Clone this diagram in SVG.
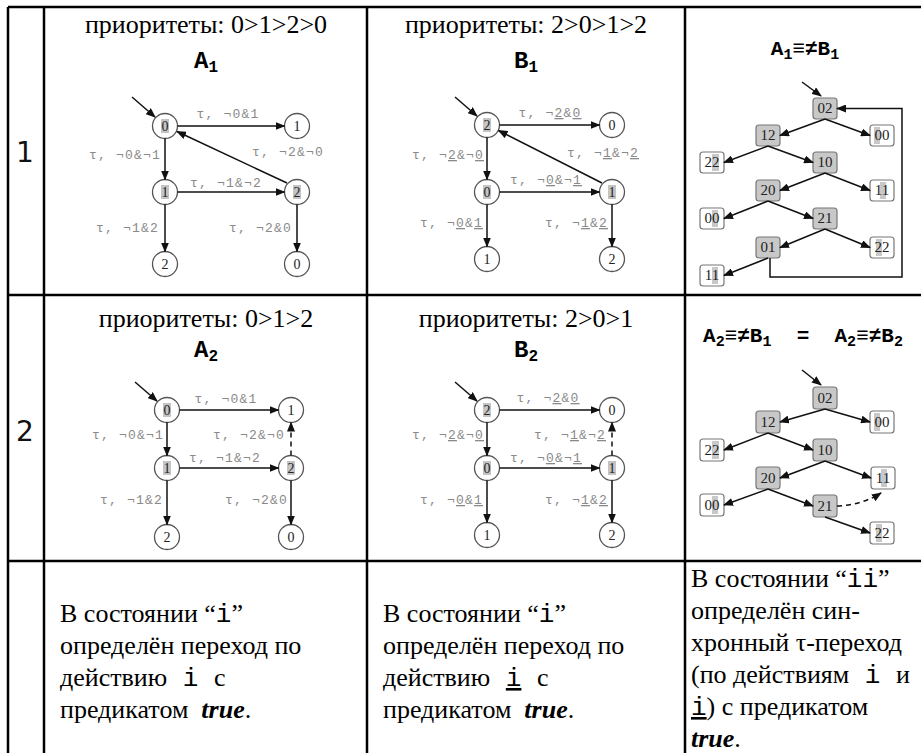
<svg xmlns="http://www.w3.org/2000/svg" width="921" height="753" viewBox="0 0 921 753">
<defs>
<marker id="ah" markerWidth="10" markerHeight="8" refX="9" refY="4" orient="auto" markerUnits="userSpaceOnUse"><path d="M0,0 L10,4 L0,8 z" fill="#111"/></marker>
</defs>
<style>
.grid{stroke:#000;stroke-width:2.5;fill:none}
.hdr{font-family:'Liberation Serif','Times New Roman','DejaVu Serif',serif;font-size:26px;fill:#000;text-anchor:middle}
.ttl{font-family:'Liberation Mono','Courier New','DejaVu Sans Mono',monospace;font-weight:bold;font-size:24px;fill:#000;text-anchor:middle}
.ttl2{font-family:'Liberation Mono','Courier New','DejaVu Sans Mono',monospace;font-weight:bold;font-size:21px;fill:#000;text-anchor:middle}
.num{font-family:'DejaVu Sans',sans-serif;font-size:28px;fill:#111;text-anchor:middle}
.st circle{fill:#fff;stroke:#555;stroke-width:1.3}
.st text{font-family:'Liberation Serif','Times New Roman','DejaVu Serif',serif;font-size:14px;fill:#222;text-anchor:middle}
.hl{fill:#c4c4c4}
.lbl{font-family:'Liberation Mono','Courier New','DejaVu Sans Mono',monospace;font-size:13px;letter-spacing:1.2px;fill:#8a8a8a}
.u{text-decoration:underline}
.e{stroke:#111;stroke-width:1.5;fill:none;marker-end:url(#ah)}
.d{stroke-dasharray:5 4}
.bx rect.b{stroke:#777;stroke-width:1.2}
.g{fill:#c8c8c8}
.w{fill:#fff}
.bx text{font-family:'Liberation Serif','Times New Roman','DejaVu Serif',serif;font-size:15px;fill:#222;text-anchor:middle}
.t{font-family:'Liberation Serif','Times New Roman','DejaVu Serif',serif;font-size:26px;fill:#000}
.m{font-family:'Liberation Mono','Courier New','DejaVu Sans Mono',monospace}
.bi{font-weight:bold;font-style:italic}
</style>

<g id="table">
<path class="grid" d="M8,7 H921 M8,295 H921 M8,561 H921 M8,7 V753 M44,7 V753 M367,7 V753 M685,7 V753"/>
<text class="num" x="25" y="162">1</text>
<text class="num" x="25" y="441">2</text>
</g>

<g id="headers">
<text class="hdr" x="206" y="33">приоритеты: 0&gt;1&gt;2&gt;0</text>
<text class="ttl" x="206" y="68">A<tspan font-size="16" dy="4">1</tspan></text>
<text class="hdr" x="526" y="33">приоритеты: 2&gt;0&gt;1&gt;2</text>
<text class="ttl" x="526" y="68">B<tspan font-size="16" dy="4">1</tspan></text>
<text class="ttl2" x="805" y="55">A<tspan font-size="15" dy="4">1</tspan><tspan dy="-4">≡≠B</tspan><tspan font-size="15" dy="4">1</tspan></text>
<text class="hdr" x="206" y="327">приоритеты: 0&gt;1&gt;2</text>
<text class="ttl" x="206" y="357">A<tspan font-size="16" dy="4">2</tspan></text>
<text class="hdr" x="526" y="327">приоритеты: 2&gt;0&gt;1</text>
<text class="ttl" x="526" y="357">B<tspan font-size="16" dy="4">2</tspan></text>
<text class="ttl2" x="803" y="342" xml:space="preserve">A<tspan font-size="15" dy="4">2</tspan><tspan dy="-4">≡≠B</tspan><tspan font-size="15" dy="4">1</tspan><tspan dy="-4">  =  A</tspan><tspan font-size="15" dy="4">2</tspan><tspan dy="-4">≡≠B</tspan><tspan font-size="15" dy="4">2</tspan></text>
</g>

<!-- A1 -->
<g id="a1_n0" class="st"><circle cx="165" cy="126" r="12.5"/><rect class="hl" x="161" y="119" width="8" height="14"/><text x="165" y="131">0</text></g>
<g id="a1_n1r" class="st"><circle cx="297" cy="126" r="12.5"/><text x="297" y="131">1</text></g>
<g id="a1_n1" class="st"><circle cx="165" cy="192" r="12.5"/><rect class="hl" x="161" y="185" width="8" height="14"/><text x="165" y="197">1</text></g>
<g id="a1_n2r" class="st"><circle cx="297" cy="192" r="12.5"/><rect class="hl" x="293" y="185" width="8" height="14"/><text x="297" y="197">2</text></g>
<g id="a1_n2b" class="st"><circle cx="165" cy="264" r="12.5"/><text x="165" y="269">2</text></g>
<g id="a1_n0b" class="st"><circle cx="297" cy="264" r="12.5"/><text x="297" y="269">0</text></g>

<!-- B1 -->
<g id="b1_n2" class="st"><circle cx="487" cy="125" r="12.5"/><rect class="hl" x="483" y="118" width="8" height="14"/><text x="487" y="130">2</text></g>
<g id="b1_n0r" class="st"><circle cx="612" cy="125" r="12.5"/><text x="612" y="130">0</text></g>
<g id="b1_n0" class="st"><circle cx="487" cy="192" r="12.5"/><rect class="hl" x="483" y="185" width="8" height="14"/><text x="487" y="197">0</text></g>
<g id="b1_n1r" class="st"><circle cx="612" cy="192" r="12.5"/><rect class="hl" x="608" y="185" width="8" height="14"/><text x="612" y="197">1</text></g>
<g id="b1_n1b" class="st"><circle cx="487" cy="259" r="12.5"/><text x="487" y="264">1</text></g>
<g id="b1_n2b" class="st"><circle cx="612" cy="259" r="12.5"/><text x="612" y="264">2</text></g>

<!-- A2 -->
<g id="a2_n0" class="st"><circle cx="167" cy="410" r="12.5"/><rect class="hl" x="163" y="403" width="8" height="14"/><text x="167" y="415">0</text></g>
<g id="a2_n1r" class="st"><circle cx="291" cy="410" r="12.5"/><text x="291" y="415">1</text></g>
<g id="a2_n1" class="st"><circle cx="167" cy="468" r="12.5"/><rect class="hl" x="163" y="461" width="8" height="14"/><text x="167" y="473">1</text></g>
<g id="a2_n2r" class="st"><circle cx="291" cy="468" r="12.5"/><rect class="hl" x="287" y="461" width="8" height="14"/><text x="291" y="473">2</text></g>
<g id="a2_n2b" class="st"><circle cx="167" cy="537" r="12.5"/><text x="167" y="542">2</text></g>
<g id="a2_n0b" class="st"><circle cx="291" cy="537" r="12.5"/><text x="291" y="542">0</text></g>

<!-- B2 -->
<g id="b2_n2" class="st"><circle cx="487" cy="410" r="12.5"/><rect class="hl" x="483" y="403" width="8" height="14"/><text x="487" y="415">2</text></g>
<g id="b2_n0r" class="st"><circle cx="612" cy="410" r="12.5"/><text x="612" y="415">0</text></g>
<g id="b2_n0" class="st"><circle cx="487" cy="468" r="12.5"/><rect class="hl" x="483" y="461" width="8" height="14"/><text x="487" y="473">0</text></g>
<g id="b2_n1r" class="st"><circle cx="612" cy="468" r="12.5"/><rect class="hl" x="608" y="461" width="8" height="14"/><text x="612" y="473">1</text></g>
<g id="b2_n1b" class="st"><circle cx="487" cy="535" r="12.5"/><text x="487" y="540">1</text></g>
<g id="b2_n2b" class="st"><circle cx="612" cy="535" r="12.5"/><text x="612" y="540">2</text></g>

<!-- product 1 boxes -->
<g id="p1_02" class="bx"><rect class="b g" x="813" y="98" width="24" height="21" rx="3"/><text x="825" y="113">02</text></g>
<g id="p1_12" class="bx"><rect class="b g" x="756" y="125" width="24" height="21" rx="3"/><text x="768" y="140">12</text></g>
<g id="p1_00a" class="bx"><rect class="b w" x="870" y="125" width="24" height="21" rx="3"/><rect class="g" x="874" y="127" width="6" height="17"/><text x="882" y="140">00</text></g>
<g id="p1_22a" class="bx"><rect class="b w" x="700" y="152" width="24" height="21" rx="3"/><rect class="g" x="712" y="154" width="7" height="17"/><text x="712" y="167">22</text></g>
<g id="p1_10" class="bx"><rect class="b g" x="813" y="152" width="24" height="21" rx="3"/><text x="825" y="167">10</text></g>
<g id="p1_20" class="bx"><rect class="b g" x="756" y="180" width="24" height="21" rx="3"/><text x="768" y="195">20</text></g>
<g id="p1_11a" class="bx"><rect class="b w" x="870" y="180" width="24" height="21" rx="3"/><rect class="g" x="880" y="182" width="6" height="17"/><text x="882" y="195">11</text></g>
<g id="p1_00b" class="bx"><rect class="b w" x="700" y="208" width="24" height="21" rx="3"/><rect class="g" x="712" y="210" width="6" height="17"/><text x="712" y="223">00</text></g>
<g id="p1_21" class="bx"><rect class="b g" x="813" y="208" width="24" height="21" rx="3"/><text x="825" y="223">21</text></g>
<g id="p1_01" class="bx"><rect class="b g" x="756" y="237" width="24" height="21" rx="3"/><text x="768" y="252">01</text></g>
<g id="p1_22b" class="bx"><rect class="b w" x="870" y="237" width="24" height="21" rx="3"/><rect class="g" x="876" y="239" width="6" height="17"/><text x="882" y="252">22</text></g>
<g id="p1_11b" class="bx"><rect class="b w" x="700" y="265" width="24" height="21" rx="3"/><rect class="g" x="712" y="267" width="6" height="17"/><text x="712" y="280">11</text></g>

<!-- product 2 boxes -->
<g id="p2_02" class="bx"><rect class="b g" x="813" y="387" width="24" height="22" rx="3"/><text x="825" y="403">02</text></g>
<g id="p2_12" class="bx"><rect class="b g" x="756" y="411" width="24" height="22" rx="3"/><text x="768" y="427">12</text></g>
<g id="p2_00a" class="bx"><rect class="b w" x="870" y="411" width="24" height="22" rx="3"/><rect class="g" x="874" y="413" width="6" height="18"/><text x="882" y="427">00</text></g>
<g id="p2_22a" class="bx"><rect class="b w" x="700" y="439" width="24" height="22" rx="3"/><rect class="g" x="712" y="441" width="7" height="18"/><text x="712" y="455">22</text></g>
<g id="p2_10" class="bx"><rect class="b g" x="813" y="439" width="24" height="22" rx="3"/><text x="825" y="455">10</text></g>
<g id="p2_20" class="bx"><rect class="b g" x="756" y="467" width="24" height="22" rx="3"/><text x="768" y="483">20</text></g>
<g id="p2_11" class="bx"><rect class="b w" x="871" y="467" width="24" height="22" rx="3"/><rect class="g" x="881" y="469" width="6" height="18"/><text x="883" y="483">11</text></g>
<g id="p2_00b" class="bx"><rect class="b w" x="700" y="494" width="24" height="22" rx="3"/><rect class="g" x="712" y="496" width="6" height="18"/><text x="712" y="510">00</text></g>
<g id="p2_21" class="bx"><rect class="b g" x="813" y="495" width="24" height="22" rx="3"/><text x="825" y="511">21</text></g>
<g id="p2_22b" class="bx"><rect class="b w" x="870" y="522" width="24" height="22" rx="3"/><rect class="g" x="876" y="524" width="6" height="18"/><text x="882" y="538">22</text></g>

<g id="connectors">
<!-- A1 -->
<path class="e" d="M132,97 L155,117"/>
<path class="e" d="M177.5,126 H284.5"/>
<path class="e" d="M165,138.5 V179.5"/>
<path class="e" d="M287,183 L177,131.5"/>
<path class="e" d="M177.5,192 H284.5"/>
<path class="e" d="M165,204.5 V251.5"/>
<path class="e" d="M297,204.5 V251.5"/>
<!-- B1 -->
<path class="e" d="M455,97 L477,116"/>
<path class="e" d="M499.5,125 H599.5"/>
<path class="e" d="M487,137.5 V179.5"/>
<path class="e" d="M602,183 L498.5,130.5"/>
<path class="e" d="M499.5,192 H599.5"/>
<path class="e" d="M487,204.5 V246.5"/>
<path class="e" d="M612,204.5 V246.5"/>
<!-- A2 -->
<path class="e" d="M135,382 L157,401"/>
<path class="e" d="M179.5,410 H278.5"/>
<path class="e" d="M167,422.5 V455.5"/>
<path class="e d" d="M291,455.5 V422.5"/>
<path class="e" d="M179.5,468 H278.5"/>
<path class="e" d="M167,480.5 V524.5"/>
<path class="e" d="M291,480.5 V524.5"/>
<!-- B2 -->
<path class="e" d="M455,382 L477,401"/>
<path class="e" d="M499.5,410 H599.5"/>
<path class="e" d="M487,422.5 V455.5"/>
<path class="e d" d="M612,455.5 V422.5"/>
<path class="e" d="M499.5,468 H599.5"/>
<path class="e" d="M487,480.5 V522.5"/>
<path class="e" d="M612,480.5 V522.5"/>
<!-- product 1 -->
<path class="e" d="M802,82 L821,96"/>
<path class="e" d="M825,119 L780,135.5"/>
<path class="e" d="M825,119 L870,135.5"/>
<path class="e" d="M768,146 L724,162.5"/>
<path class="e" d="M768,146 L813,162.5"/>
<path class="e" d="M825,173 L780,190.5"/>
<path class="e" d="M825,173 L870,190.5"/>
<path class="e" d="M768,201 L724,218.5"/>
<path class="e" d="M768,201 L813,218.5"/>
<path class="e" d="M825,229 L780,247.5"/>
<path class="e" d="M825,229 L870,247.5"/>
<path class="e" d="M768,258 L724,275.5"/>
<path class="e" d="M770,258 V277 H902 V108.5 H837"/>
<!-- product 2 -->
<path class="e" d="M802,370 L821,385"/>
<path class="e" d="M825,409 L780,422"/>
<path class="e" d="M825,409 L870,422"/>
<path class="e" d="M768,433 L724,450"/>
<path class="e" d="M768,433 L813,450"/>
<path class="e" d="M825,461 L780,478"/>
<path class="e" d="M825,461 L871,478"/>
<path class="e" d="M768,489 L724,505"/>
<path class="e" d="M768,489 L813,506"/>
<path class="e" d="M825,517 L870,533"/>
<path class="e d" d="M837,506 Q862,505 881,493"/>
</g>

<g id="labels">
<text class="lbl" x="228" y="118" text-anchor="middle">τ, ¬0&amp;1</text>
<text class="lbl" x="161" y="159" text-anchor="end">τ, ¬0&amp;¬1</text>
<text class="lbl" x="288" y="156" text-anchor="middle">τ, ¬2&amp;¬0</text>
<text class="lbl" x="226" y="187" text-anchor="middle">τ, ¬1&amp;¬2</text>
<text class="lbl" x="159" y="232" text-anchor="end">τ, ¬1&amp;2</text>
<text class="lbl" x="292" y="232" text-anchor="end">τ, ¬2&amp;0</text>

<text class="lbl" x="550" y="117" text-anchor="middle">τ, ¬<tspan class="u">2</tspan>&amp;<tspan class="u">0</tspan></text>
<text class="lbl" x="484" y="159" text-anchor="end">τ, ¬<tspan class="u">2</tspan>&amp;¬<tspan class="u">0</tspan></text>
<text class="lbl" x="603" y="157" text-anchor="middle">τ, ¬<tspan class="u">1</tspan>&amp;¬<tspan class="u">2</tspan></text>
<text class="lbl" x="546" y="184" text-anchor="middle">τ, ¬<tspan class="u">0</tspan>&amp;¬<tspan class="u">1</tspan></text>
<text class="lbl" x="483" y="227" text-anchor="end">τ, ¬<tspan class="u">0</tspan>&amp;<tspan class="u">1</tspan></text>
<text class="lbl" x="608" y="227" text-anchor="end">τ, ¬<tspan class="u">1</tspan>&amp;<tspan class="u">2</tspan></text>

<text class="lbl" x="226" y="403" text-anchor="middle">τ, ¬0&amp;1</text>
<text class="lbl" x="164" y="439" text-anchor="end">τ, ¬0&amp;¬1</text>
<text class="lbl" x="285" y="439" text-anchor="end">τ, ¬2&amp;¬0</text>
<text class="lbl" x="225" y="462" text-anchor="middle">τ, ¬1&amp;¬2</text>
<text class="lbl" x="163" y="504" text-anchor="end">τ, ¬1&amp;2</text>
<text class="lbl" x="288" y="504" text-anchor="end">τ, ¬2&amp;0</text>

<text class="lbl" x="548" y="402" text-anchor="middle">τ, ¬<tspan class="u">2</tspan>&amp;<tspan class="u">0</tspan></text>
<text class="lbl" x="484" y="439" text-anchor="end">τ, ¬<tspan class="u">2</tspan>&amp;¬<tspan class="u">0</tspan></text>
<text class="lbl" x="606" y="439" text-anchor="end">τ, ¬<tspan class="u">1</tspan>&amp;¬<tspan class="u">2</tspan></text>
<text class="lbl" x="546" y="462" text-anchor="middle">τ, ¬<tspan class="u">0</tspan>&amp;¬<tspan class="u">1</tspan></text>
<text class="lbl" x="483" y="504" text-anchor="end">τ, ¬<tspan class="u">0</tspan>&amp;<tspan class="u">1</tspan></text>
<text class="lbl" x="608" y="504" text-anchor="end">τ, ¬<tspan class="u">1</tspan>&amp;<tspan class="u">2</tspan></text>
</g>

<g id="notes">
<text class="t" x="60" y="622">В состоянии “<tspan class="m">i</tspan>”</text>
<text class="t" x="60" y="654">определён переход по</text>
<text class="t" x="60" y="686" xml:space="preserve">действию<tspan class="m"> i </tspan>с</text>
<text class="t" x="60" y="718" xml:space="preserve">предикатом  <tspan class="bi">true</tspan>.</text>

<text class="t" x="383" y="622">В состоянии “<tspan class="m">i</tspan>”</text>
<text class="t" x="383" y="654">определён переход по</text>
<text class="t" x="383" y="686" xml:space="preserve">действию<tspan class="m"> <tspan class="u">i</tspan> </tspan>с</text>
<text class="t" x="383" y="718" xml:space="preserve">предикатом  <tspan class="bi">true</tspan>.</text>

<text class="t" x="691" y="587">В состоянии “<tspan class="m">ii</tspan>”</text>
<text class="t" x="691" y="619">определён син-</text>
<text class="t" x="691" y="651">хронный τ-переход</text>
<text class="t" x="691" y="683" xml:space="preserve">(по действиям<tspan class="m"> i </tspan>и</text>
<text class="t" x="691" y="715"><tspan class="m u">i</tspan>) с предикатом</text>
<text class="t" x="691" y="747"><tspan class="bi">true</tspan>.</text>
</g>
</svg>
